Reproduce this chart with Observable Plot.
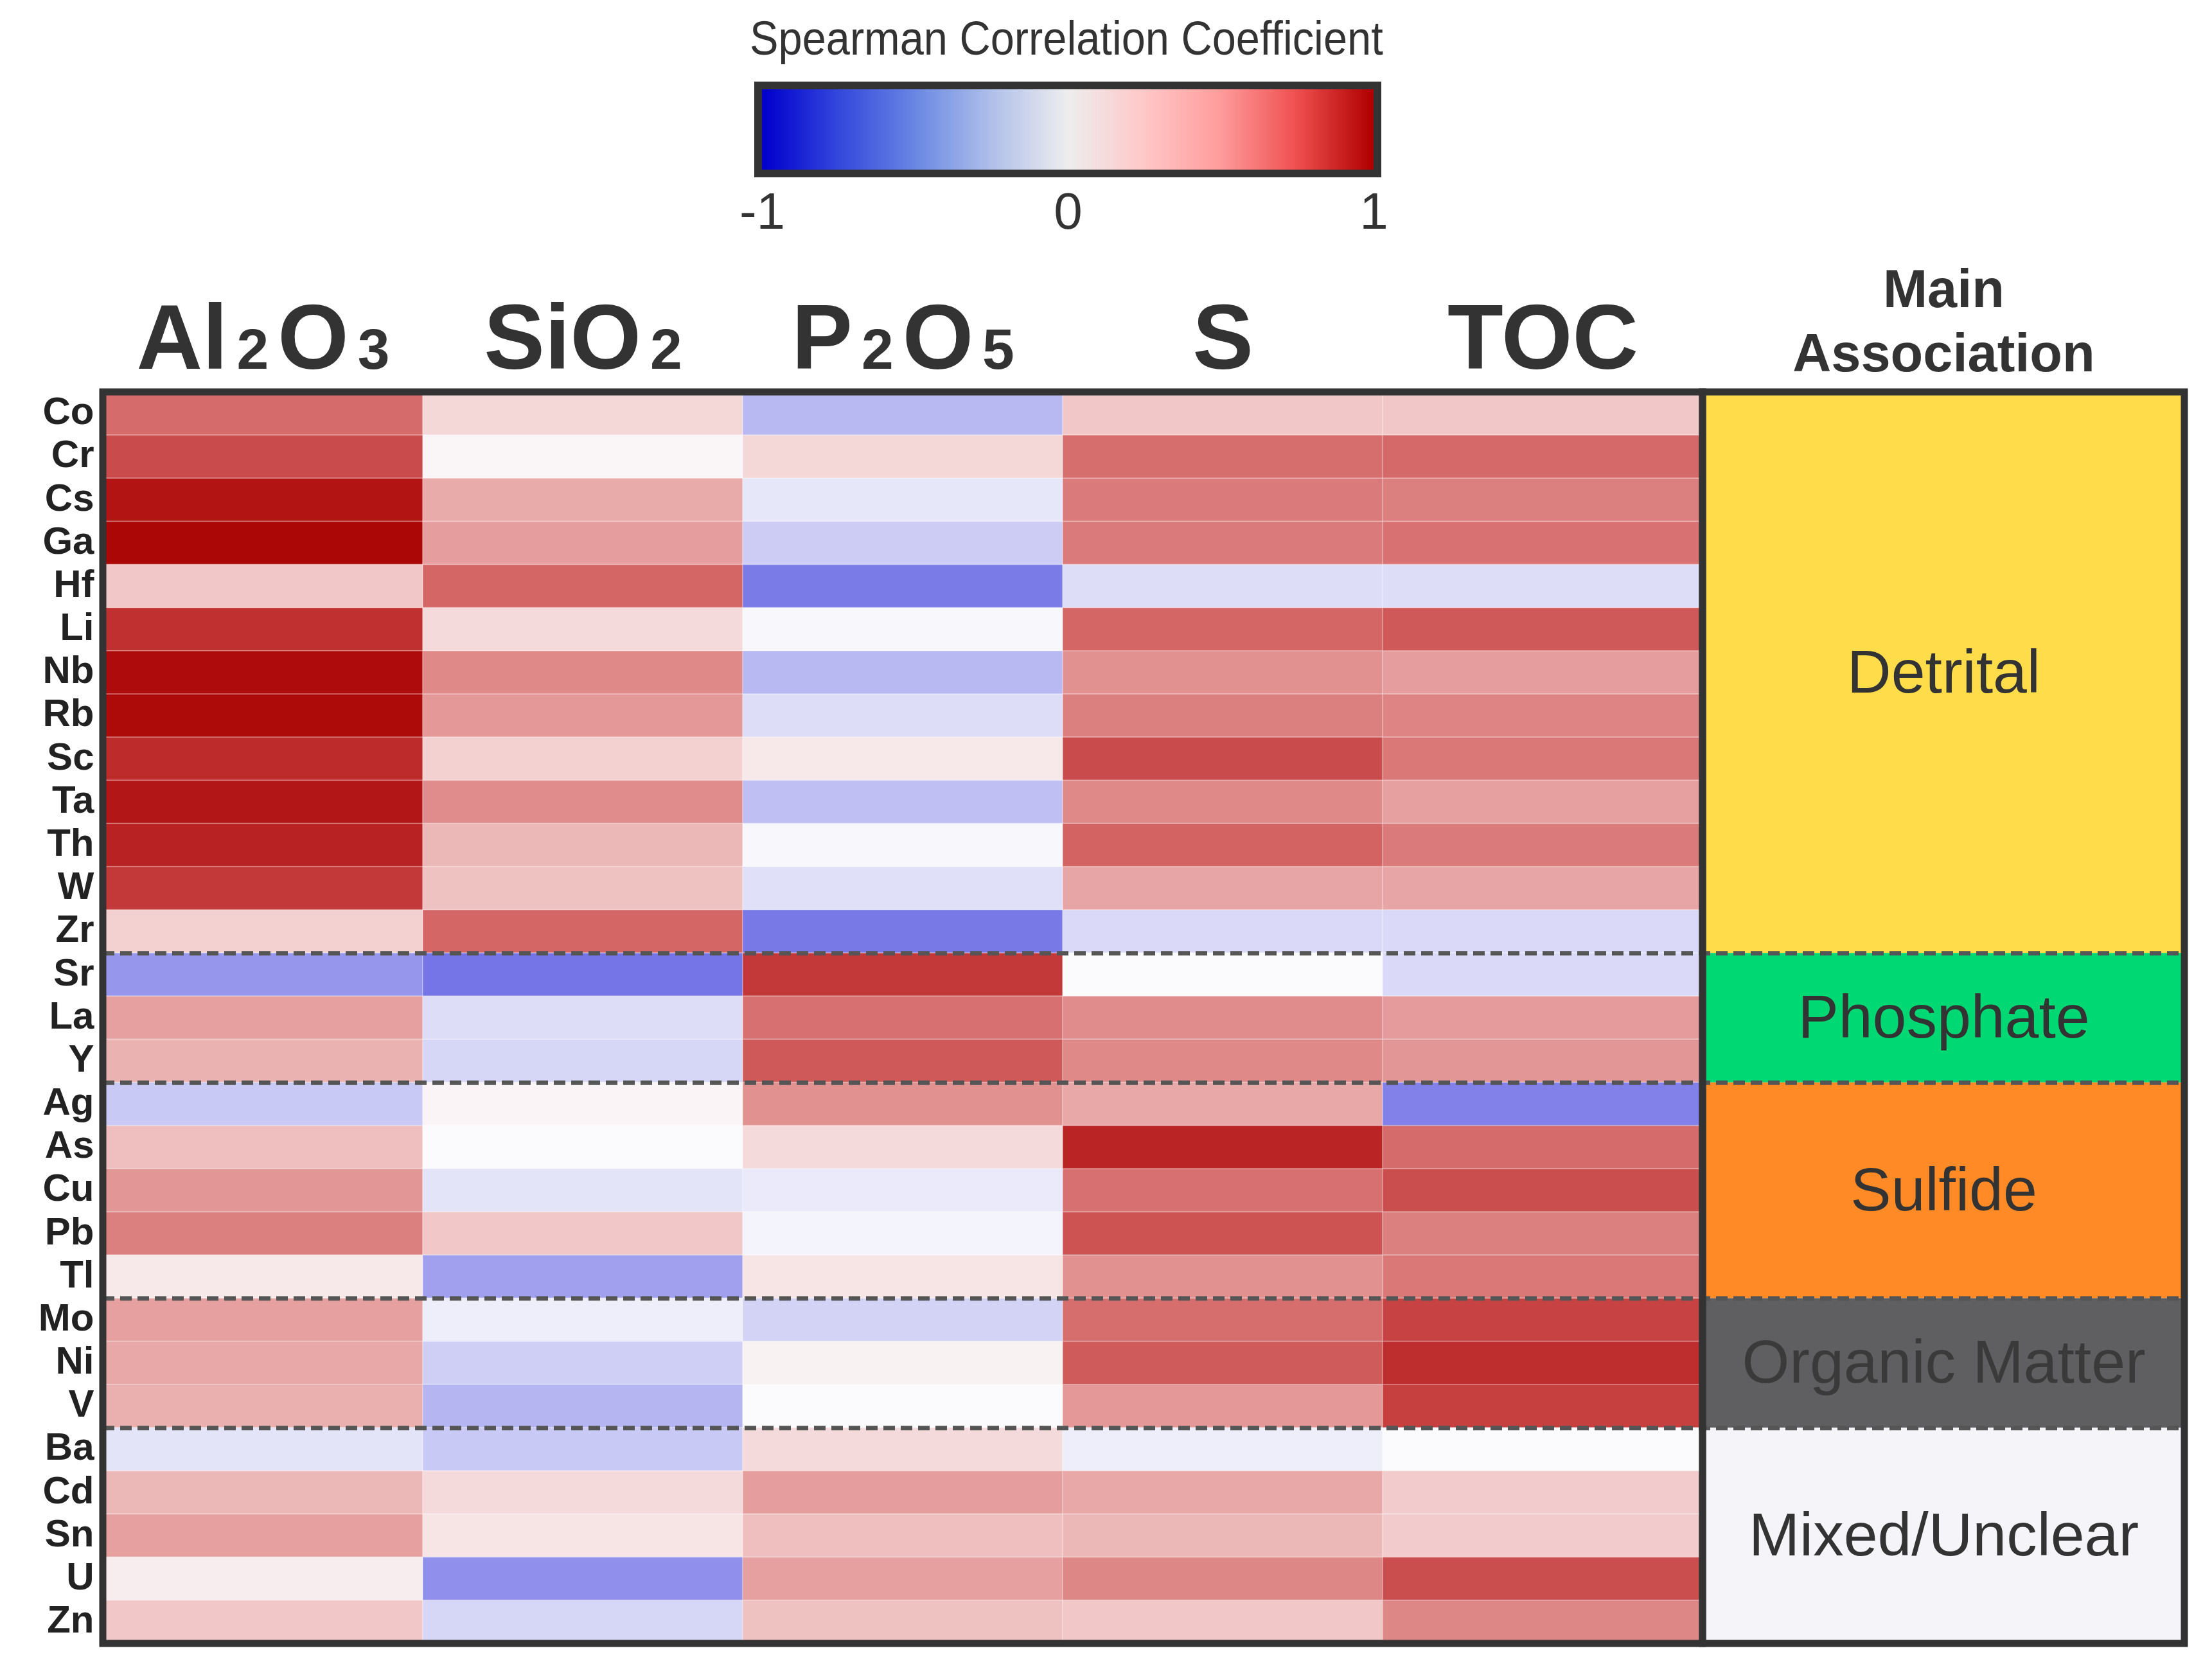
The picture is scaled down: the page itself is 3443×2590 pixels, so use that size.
<!DOCTYPE html>
<html><head><meta charset="utf-8">
<script src="https://cdn.jsdelivr.net/npm/d3@7"></script>
<script src="https://cdn.jsdelivr.net/npm/@observablehq/plot@0.6"></script>
<style>
html,body{margin:0;padding:0;background:#fff;}
#wrap{width:3443px;height:2590px;position:relative;overflow:hidden;background:#fff;}
#legend{position:relative;width:3443px;height:380px;}
#title{position:absolute;left:1167px;top:22px;font-size:75px;font-family:"Liberation Sans Narrow","Liberation Sans",sans-serif;color:#333;line-height:75px;white-space:nowrap;transform:scaleX(0.89);transform-origin:0 0;}
#ramp{position:absolute;left:1100px;top:0;}
#chart{position:absolute;left:0;top:380px;}
</style></head><body>
<div id="wrap"><div id="legend"><div id="title">Spearman Correlation Coefficient</div><div id="ramp"></div></div><div id="chart"></div></div>
<script>
// ---- data ----
const columns = ["Al2O3", "SiO2", "P2O5", "S", "TOC"];
const elements = ["Co","Cr","Cs","Ga","Hf","Li","Nb","Rb","Sc","Ta","Th","W","Zr",
                  "Sr","La","Y",
                  "Ag","As","Cu","Pb","Tl",
                  "Mo","Ni","V",
                  "Ba","Cd","Sn","U","Zn"];
const al2o3  = [0.58,0.70,0.92,0.97,0.22,0.80,0.95,0.96,0.82,0.91,0.86,0.77,0.18,-0.31,0.37,0.30,-0.15,0.25,0.41,0.50,0.08,0.37,0.34,0.31,-0.07,0.28,0.37,0.06,0.22];
const sio2   = [0.15,0.02,0.33,0.38,0.60,0.14,0.46,0.40,0.18,0.45,0.28,0.24,0.60,-0.45,-0.09,-0.11,0.03,0.00,-0.07,0.22,-0.28,-0.04,-0.13,-0.21,-0.15,0.14,0.10,-0.33,-0.11];
const p2o5   = [-0.20,0.15,-0.06,-0.14,-0.40,-0.01,-0.20,-0.09,0.08,-0.18,-0.01,-0.08,-0.43,0.77,0.56,0.65,0.43,0.14,-0.05,-0.02,0.10,-0.12,0.04,0.00,0.14,0.38,0.25,0.37,0.24];
const sulfur = [0.22,0.57,0.52,0.52,-0.09,0.60,0.43,0.50,0.70,0.46,0.61,0.35,-0.10,0.00,0.45,0.46,0.34,0.85,0.56,0.67,0.43,0.57,0.64,0.40,-0.04,0.34,0.28,0.47,0.22];
const toc    = [0.22,0.59,0.50,0.55,-0.09,0.65,0.38,0.48,0.53,0.37,0.52,0.35,-0.10,-0.10,0.39,0.41,-0.38,0.58,0.69,0.50,0.53,0.73,0.81,0.74,0.00,0.20,0.20,0.69,0.47];
const groupNames  = ["Detrital","Phosphate","Sulfide","Organic Matter","Mixed/Unclear"];
const groupSizes  = [13, 3, 5, 3, 5];
const groupColors = ["#ffdd4a","#00d874","#ff8a26","#5f5f61","#f5f5f9"];
const groupText   = ["#333333","#333333","#333333","#3a3a3a","#333333"];
const legendTicks = [-1, 0, 1];
const legendStops  = [-1,-0.75,-0.5,-0.25,0,0.25,0.5,0.75,1];
const legendColors = ["#0000cc","#3448dc","#6a88e4","#b0c0ea","#eeeeee","#ffc8c8","#ff9c9c","#f05050","#b00000"];
const cellStops  = [-1,-0.4,-0.2,0,0.2,0.4,0.6,0.8,1];
const cellColors = ["#3535d6","#7b7be8","#b8b8f2","#fbfbfd","#f2cccc","#e49898","#d46666","#c03030","#a80000"];

// ---- derived tables ----
const series = [al2o3, sio2, p2o5, sulfur, toc];
const cells = [];
series.forEach((vals, ci) => vals.forEach((v, ri) => cells.push({col: ci, row: ri, value: v, element: elements[ri], oxide: columns[ci]})));
let acc = 0;
const groups = groupNames.map((name, i) => {
  const g = {name, start: acc, end: acc + groupSizes[i], color: groupColors[i], text: groupText[i]};
  acc += groupSizes[i];
  g.mid = (g.start + g.end) / 2;
  return g;
});
const boundaries = groups.slice(0, -1).map(g => g.end);
const nCols = columns.length, nRows = elements.length;
const assocW = 1.506;
const xMax = nCols + assocW;

// ---- legend ----
const ramp = Plot.legend({
  color: {type: "linear", domain: legendStops, range: legendColors, interpolate: "rgb"},
  width: 1200, height: 380,
  marginLeft: 86, marginRight: 162, marginTop: 139, marginBottom: 116,
  ticks: legendTicks, tickSize: 32, tickFormat: d => String(d),
  style: {fontSize: "80px", fontFamily: "'Liberation Sans Narrow','Liberation Sans',sans-serif", color: "#333", overflow: "visible", background: "transparent"}
});
d3.select(ramp).selectAll(".tick line").remove();
d3.select(ramp).append("rect")
  .attr("x", 86 - 6).attr("y", 139 - 6).attr("width", 1200 - 86 - 162 + 12).attr("height", 380 - 139 - 116 + 12)
  .attr("fill", "none").attr("stroke", "#333").attr("stroke-width", 12);
document.getElementById("ramp").appendChild(ramp);

// ---- main chart ----
const plot = Plot.plot({
  width: 3443, height: 2210,
  marginLeft: 160, marginRight: 43, marginTop: 230, marginBottom: 32,
  x: {domain: [0, xMax], axis: null},
  y: {domain: [0, nRows], reverse: true, axis: null},
  color: {type: "linear", domain: cellStops, range: cellColors, interpolate: "rgb", clamp: true},
  style: {fontFamily: "'Liberation Sans', Arial, sans-serif", color: "#333", background: "white", overflow: "visible"},
  marks: [
    Plot.rect(cells, {x1: "col", x2: d => d.col + 1, y1: "row", y2: d => d.row + 1, fill: "value", stroke: "#fff", strokeOpacity: 0.22, strokeWidth: 2}),
    ...groups.map(g => Plot.rect([g], {x1: nCols, x2: xMax, y1: "start", y2: "end", fill: g.color})),
    Plot.ruleY(boundaries, {x1: 0, x2: xMax, stroke: "#555", strokeWidth: 7, strokeDasharray: "18,9"}),
    Plot.rect([{a: 0, b: nCols}, {a: nCols, b: xMax}], {x1: "a", x2: "b", y1: 0, y2: nRows, fill: "none", stroke: "#333", strokeWidth: 11}),
    Plot.text(elements, {x: 0, y: (d, i) => i + 0.5, text: d => d, textAnchor: "end", dx: -14, dy: -3, fontSize: 60, fontWeight: "bold", fontFamily: "'Liberation Sans Narrow','Liberation Sans',sans-serif", fill: "#222"}),
    Plot.text(columns, {x: (d, i) => i + 0.5, text: d => d, frameAnchor: "top", dy: -37, lineAnchor: "bottom", fontSize: 142, fontWeight: "bold", fill: "#333"}),
    Plot.text(["Main\nAssociation"], {x: nCols + assocW / 2, text: d => d, frameAnchor: "top", dy: -33, lineAnchor: "bottom", lineHeight: 1.2, fontSize: 83, fontWeight: "bold", fill: "#333"}),
    Plot.text(groups, {x: nCols + assocW / 2, y: "mid", text: "name", fontSize: 95, fill: d => d.text})
  ]
});
// chemical formulas: draw the digits smaller, sitting on the baseline
d3.select(plot).selectAll("text")
  .filter(function () { return columns.includes(this.textContent) && /\d/.test(this.textContent); })
  .each(function () {
    const s = this.textContent;
    const el = d3.select(this);
    el.text(null);
    const parts = s.match(/\d+|\D+/g);
    parts.forEach((p, k) => {
      const t = el.append("tspan").text(p);
      if (/\d/.test(p)) t.attr("font-size", "0.63em");
      if (k > 0) t.attr("dx", 14);
    });
  });
document.getElementById("chart").appendChild(plot);
</script>
</body></html>
